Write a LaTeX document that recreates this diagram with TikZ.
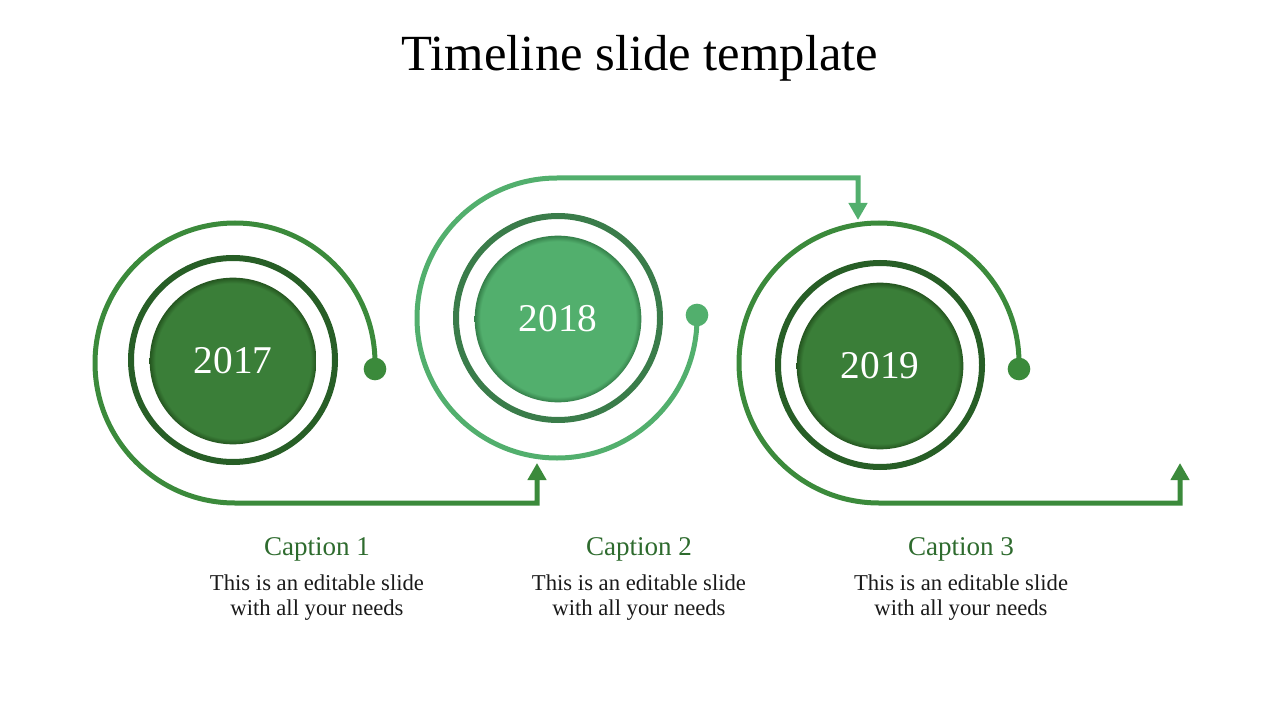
\documentclass[tikz,border=0pt]{standalone}
\usepackage{fontspec}
\setmainfont{Liberation Serif}
\usetikzlibrary{arrows.meta}
\definecolor{gdark}{HTML}{3A7E38}
\definecolor{gdarkedge}{HTML}{24551F}
\definecolor{gring}{HTML}{275E26}
\definecolor{gspiral}{HTML}{3B8A3B}
\definecolor{glight}{HTML}{52AF6D}
\definecolor{glightedge}{HTML}{347F49}
\definecolor{gringtwo}{HTML}{3A7C4A}
\definecolor{gcap}{HTML}{2E6B2E}
\definecolor{gtext}{HTML}{1A1A1A}
\pgfdeclareradialshading{darkball}{\pgfpoint{0bp}{0bp}}{color(0bp)=(gdark); color(23.3bp)=(gdark); color(25bp)=(gdarkedge); color(50bp)=(gdarkedge)}
\pgfdeclareradialshading{lightball}{\pgfpoint{0bp}{0bp}}{color(0bp)=(glight); color(23.3bp)=(glight); color(25bp)=(glightedge); color(50bp)=(glightedge)}
\begin{document}
\begin{tikzpicture}[x=0.75pt,y=-0.75pt,
  yearball/.style={circle, inner sep=0pt, minimum size=125pt, text=white, font=\fontsize{29.5}{33}\selectfont},
  ringline/.style={circle, draw, line width=4.5pt, minimum size=153pt, inner sep=0pt},
  enddot/.style={circle, inner sep=0pt, minimum size=17pt},
  spiral/.style={line width=3.75pt, -{Triangle[width=13.5pt,length=12.75pt]}},
  captext/.style={text=gcap, font=\fontsize{20.3}{24}\selectfont},
  bodytext/.style={text=gtext, align=center, font=\fontsize{17}{18.75}\selectfont}]
\useasboundingbox (0,0) rectangle (1280,720);
\node[font=\fontsize{38}{44}\selectfont] (title) at (640,58) {Timeline slide template};
% circle 1
\node[ringline, draw=gring] (r1) at (233,360) {};
\node[yearball, shading=darkball] (y1) at (233,361) {2017};
\node[enddot, fill=gspiral] (d1) at (375,369) {};
\coordinate (a1) at (537,463);
\draw[spiral, draw=gspiral] (d1.center) -- (375,363) arc[start angle=0, end angle=-270, radius=140] -- (537,503) -- (a1);
% circle 2
\node[ringline, draw=gringtwo] (r2) at (558,318) {};
\node[yearball, shading=lightball] (y2) at (558,319) {2018};
\node[enddot, fill=glight] (d2) at (697,315) {};
\coordinate (a2) at (858,220);
\draw[spiral, draw=glight] (d2.center) -- (697,318) arc[start angle=0, end angle=270, radius=140] -- (858,178) -- (a2);
% circle 3
\node[ringline, draw=gring] (r3) at (880,365) {};
\node[yearball, shading=darkball] (y3) at (880,366) {2019};
\node[enddot, fill=gspiral] (d3) at (1019,369) {};
\coordinate (a3) at (1180,463);
\draw[spiral, draw=gspiral] (d3.center) -- (1019,363) arc[start angle=0, end angle=-270, radius=140] -- (1180,503) -- (a3);
% captions
\node[captext] (c1) at (317,549) {Caption 1};
\node[captext] (c2) at (639,549) {Caption 2};
\node[captext] (c3) at (961,549) {Caption 3};
\node[bodytext] (b1) at (317,598) {This is an editable slide\\with all your needs};
\node[bodytext] (b2) at (639,598) {This is an editable slide\\with all your needs};
\node[bodytext] (b3) at (961,598) {This is an editable slide\\with all your needs};
\end{tikzpicture}
\end{document}
